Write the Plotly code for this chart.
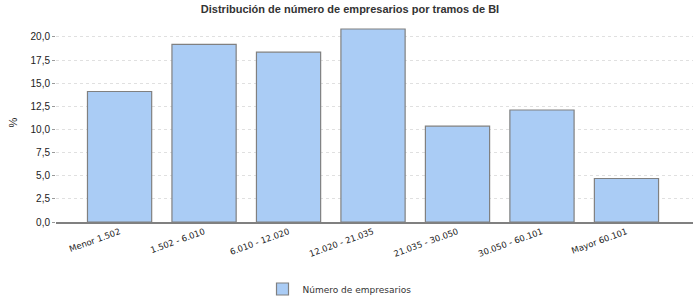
import plotly.graph_objects as go

categories = ["Menor 1.502", "1.502 - 6.010", "6.010 - 12.020", "12.020 - 21.035",
              "21.035 - 30.050", "30.050 - 60.101", "Mayor 60.101"]
values = [14.1, 19.2, 18.35, 20.85, 10.35, 12.1, 4.7]
y_ticks = [0, 2.5, 5, 7.5, 10, 12.5, 15, 17.5, 20]
series_name = "Número de empresarios"
title = "Distribución de número de empresarios por tramos de BI"

fig = go.Figure()
fig.add_trace(go.Bar(
    x=categories, y=values, name=series_name,
    marker=dict(color="#aaccf5", line=dict(color="#808080", width=1.2)),
    width=0.76, showlegend=True,
))

fig.update_layout(
    width=700, height=300,
    margin=dict(l=56, r=7, t=23, b=78),
    paper_bgcolor="white", plot_bgcolor="white",
    separators=",.",
    title=dict(text=f"<b>{title}</b>", x=0.5, xref="container", xanchor="center",
               y=1 - 9 / 300, yref="container", yanchor="middle",
               font=dict(family="Liberation Sans", size=11, color="#333333")),
    legend=dict(orientation="h", x=0.485, xref="container", xanchor="center",
                y=1 - 289 / 300, yref="container", yanchor="middle",
                font=dict(family="DejaVu Sans", size=9, color="#333333"),
                itemwidth=30),
    showlegend=True,
)

fig.update_xaxes(
    type="category", range=[-0.7525, 6.7875],
    tickangle=-20, tickfont=dict(family="DejaVu Sans", size=8.5, color="#222222"),
    showline=True, linecolor="#808080", linewidth=1.5,
    ticks="", showgrid=False, zeroline=False,
)
fig.update_yaxes(
    range=[0, 21.5], tickvals=y_ticks, tickformat=".1f",
    tickfont=dict(family="Liberation Sans", size=10, color="#222222"),
    ticks="outside", ticklen=3, tickcolor="#999999",
    showgrid=True, gridcolor="#e0e0e0", griddash="3px,3px", gridwidth=1,
    showline=False, zeroline=False,
    title=dict(text="%", font=dict(family="Liberation Sans", size=11, color="#222222"), standoff=10),
)

fig.write_html("out.html")
